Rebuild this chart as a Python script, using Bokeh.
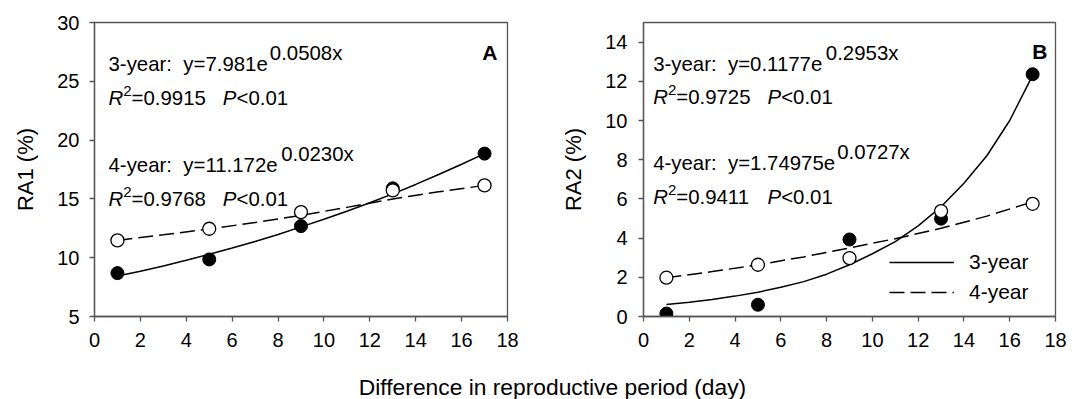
from bokeh.plotting import figure
from bokeh.models import Label, Legend, LegendItem, Range1d, FixedTicker
from bokeh.layouts import row, column
from bokeh.embed import file_html
from bokeh.resources import INLINE

# ---------------- data ----------------
days = [1, 5, 9, 13, 17]
ra1_3yr = [8.69, 9.85, 12.69, 15.9, 18.85]
ra1_4yr = [11.47, 12.46, 13.88, 15.72, 16.15]
ra2_3yr = [0.15, 0.60, 3.93, 4.99, 12.36]
ra2_4yr = [1.98, 2.64, 2.98, 5.38, 5.75]

# fitted curves as drawn in the picture
fit_x_fine = [1, 2, 3, 4, 5, 6, 7, 8, 9, 10, 11, 12, 13, 14, 15, 16, 17]
fit_x_coarse = [1, 3, 5, 7, 9, 11, 13, 15, 17]
ra1_fit3 = [8.45, 8.85, 9.30, 9.78, 10.29, 10.82, 11.38, 11.97, 12.62, 13.27,
            13.95, 14.67, 15.43, 16.23, 17.07, 17.95, 18.85]
ra1_fit4 = [11.47, 11.95, 12.45, 12.99, 13.60, 14.28, 15.00, 15.60, 16.15]
ra2_fit3 = [0.61, 0.73, 0.87, 1.04, 1.24, 1.49, 1.78, 2.16, 2.64, 3.20,
            3.82, 4.62, 5.60, 6.80, 8.20, 10.00, 12.30]
ra2_fit4 = [1.98, 2.29, 2.64, 3.04, 3.50, 3.97, 4.50, 5.12, 5.85]

x_ticks = [0, 2, 4, 6, 8, 10, 12, 14, 16, 18]
ra1_ticks = [5, 10, 15, 20, 25, 30]
ra2_ticks = [0, 2, 4, 6, 8, 10, 12, 14]

NB = "\u00a0"
eq_A = [("3-year:" + NB + NB + "y=7.981e", "0.0508x", "=0.9915"),
        ("4-year:" + NB + NB + "y=11.172e", "0.0230x", "=0.9768")]
eq_B = [("3-year:" + NB + NB + "y=0.1177e", "0.2953x", "=0.9725"),
        ("4-year:" + NB + NB + "y=1.74975e", "0.0727x", "=0.9411")]
series_names = ["3-year", "4-year"]

FONT = "Liberation Sans"
AX = "#555555"
W = {c: 0.556 for c in "0123456789"}
W.update({'.': .278, ' ': .278, NB: .278, '-': .333, 'y': .5, 'e': .556, 'a': .556,
          'r': .333, ':': .278, '=': .584, 'R': .722, 'P': .667, '<': .584, 'x': .5})


def tw(s, fs):
    return sum(W.get(c, .556) for c in s) * fs


def make_fig(width, left, right, yr, yticks, ylab, ystand):
    p = figure(width=width, height=360, x_range=Range1d(0, 18), y_range=Range1d(*yr),
               output_backend="svg", toolbar_location=None,
               min_border_left=left, min_border_right=right,
               min_border_top=22, min_border_bottom=44)
    p.grid.visible = False
    p.outline_line_color = AX
    p.outline_line_width = 1.3
    p.xaxis.ticker = FixedTicker(ticks=x_ticks)
    p.yaxis.ticker = FixedTicker(ticks=yticks)
    for ax in (p.xaxis[0], p.yaxis[0]):
        ax.axis_line_color = AX
        ax.axis_line_width = 1.3
        ax.major_tick_line_color = AX
        ax.major_tick_line_width = 1.3
        ax.major_tick_out = 5
        ax.major_tick_in = 0
        ax.minor_tick_line_color = None
        ax.major_label_text_font = FONT
        ax.major_label_text_font_size = "20px"
        ax.major_label_text_color = "black"
    p.xaxis.major_label_standoff = 11
    p.yaxis.major_label_standoff = ystand
    p.yaxis.axis_label = ylab
    p.yaxis.axis_label_text_font = FONT
    p.yaxis.axis_label_text_font_size = "22px"
    p.yaxis.axis_label_text_font_style = "normal"
    p.yaxis.axis_label_text_color = "black"
    p.yaxis.axis_label_standoff = 16
    return p


def txt(p, x, y, text, size, style="normal", **kw):
    p.add_layout(Label(x=x, y=y, text=text, text_font=FONT, text_font_size=size,
                       text_font_style=style, text_color="black",
                       text_baseline=kw.pop("baseline", "alphabetic"), **kw))


def annotate(p, frame_left, frame_w, yr, start_px, rows, eqs, fig_off):
    # pixel -> data conversion for this frame (frame top 22, height 294)
    def fx(px):
        return (px - fig_off - frame_left) / frame_w * 18

    def fy(py):
        return yr[0] + (316 - py) / 294 * (yr[1] - yr[0])

    fs = 20.4
    s = f"{fs}px"
    for i, (main, sup, r2) in enumerate(eqs):
        b1, b2 = rows[2 * i], rows[2 * i + 1]
        txt(p, fx(start_px), fy(b1), main, s)
        txt(p, fx(start_px + tw(main, fs) + 2), fy(b1 - 11), sup, s)
        x = start_px
        txt(p, fx(x), fy(b2), "R", s, "italic")
        x += tw("R", fs)
        txt(p, fx(x), fy(b2 - 7), "2", "15px")
        x += tw("2", 15)
        txt(p, fx(x), fy(b2), r2, s)
        x += tw(r2, fs) + 17
        txt(p, fx(x), fy(b2), "P", s, "italic")
        x += tw("P", fs)
        txt(p, fx(x), fy(b2), "<0.01", s)
    return fx, fy


# ---------------- panel A ----------------
pA = make_fig(540, 94, 33, (5, 30), ra1_ticks, "RA1 (%)", 10)
pA.line(fit_x_fine, ra1_fit3, line_color="black", line_width=1.5)
pA.line(fit_x_coarse, ra1_fit4, line_color="black", line_width=1.5, line_dash="15 6")
pA.scatter(days, ra1_3yr, size=13, fill_color="black", line_color="black")
pA.scatter(days, ra1_4yr, size=13, fill_color="white", line_color="black", line_width=1.3)
fxA, fyA = annotate(pA, 94, 413, (5, 30), 108, [63, 97, 164, 198], eq_A, 0)
txt(pA, fxA(497), fyA(51.5), "A", "21px", "bold", text_align="right")

# ---------------- panel B ----------------
pB = make_fig(543, 103, 28, (0, 15), ra2_ticks, "RA2 (%)", 11)
rB3 = pB.line(fit_x_fine, ra2_fit3, line_color="black", line_width=1.5)
rB4 = pB.line(fit_x_coarse, ra2_fit4, line_color="black", line_width=1.5, line_dash="15 6")
pB.scatter(days, ra2_3yr, size=13, fill_color="black", line_color="black")
pB.scatter(days, ra2_4yr, size=13, fill_color="white", line_color="black", line_width=1.3)
fxB, fyB = annotate(pB, 103, 412, (0, 15), 652.7, [63, 96, 162, 196], eq_B, 540)
txt(pB, fxB(1047), fyB(51), "B", "21px", "bold", text_align="right")

legend = Legend(items=[LegendItem(label=series_names[0], renderers=[rB3]),
                       LegendItem(label=series_names[1], renderers=[rB4])],
                location=(246, 12), border_line_color=None, background_fill_alpha=0,
                label_text_font=FONT, label_text_font_size="21px",
                label_text_color="black",
                glyph_width=65, glyph_height=22, label_height=22, label_standoff=15,
                spacing=6, padding=0, margin=0)
pB.add_layout(legend)

# ---------------- shared x label ----------------
pX = figure(width=1083, height=39, x_range=Range1d(0, 1083), y_range=Range1d(0, 39),
            output_backend="svg", toolbar_location=None,
            x_axis_location=None, y_axis_location=None, min_border=0)
pX.grid.visible = False
pX.outline_line_color = None
txt(pX, 552, 13, "Difference in reproductive period (day)", "22.8px",
    text_align="center", baseline="middle")

layout = column(row(pA, pB), pX)
open("out.html", "w").write(file_html(layout, INLINE))
